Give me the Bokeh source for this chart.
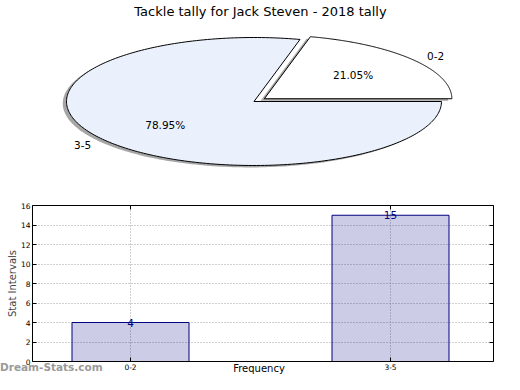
import numpy as np
from bokeh.plotting import figure
from bokeh.models import Range1d, Label, FixedTicker, LinearAxis, Div
from bokeh.layouts import column
from bokeh.embed import file_html
from bokeh.resources import INLINE
from bokeh.core.properties import value

# ---------------- data ----------------
title_text = "Tackle tally for Jack Steven - 2018 tally"
categories = ["0-2", "3-5"]
counts = [4, 15]
y_ticks = [0, 2, 4, 6, 8, 10, 12, 14, 16]
x_label = "Frequency"
y_label = "Stat Intervals"
watermark = "Dream-Stats.com"

FONT = "DejaVu Sans"
W = 504
FL, FR = 32, 11           # shared left/right borders (frames are aligned in a column)

# ---------------- pie ----------------
PH = 190
cx, cy = 253.5, 101.0     # canvas px of pie centre
rx, ry = 187.5, 64.0      # px per unit radius
pie = figure(width=W, height=PH,
             x_range=Range1d(-(cx - FL) / rx, (W - FR - cx) / rx),
             y_range=Range1d(-(PH - cy) / ry, cy / ry),
             output_backend="svg", toolbar_location=None,
             x_axis_type=None, y_axis_type=None,
             min_border_left=FL, min_border_right=FR, min_border_top=0, min_border_bottom=0)
pie.grid.visible = False
pie.outline_line_color = None

total = float(sum(counts))
fracs = [c / total for c in counts]
explode = [0.07, 0.0]
fills = ["#ffffff", "#eaf0fc"]

wx, wy, sx, sy = [], [], [], []
lab_x, lab_y, lab_t, lab_a = [], [], [], []
pct_x, pct_y, pct_t = [], [], []
start = 0.0
for f, e, name in zip(fracs, explode, categories):
    t1, t2 = start, start + 2 * np.pi * f
    mid = 0.5 * (t1 + t2)
    ox, oy = e * np.cos(mid), e * np.sin(mid)
    t = np.linspace(t1, t2, 240)
    px = np.concatenate([[ox], ox + np.cos(t)])
    py = np.concatenate([[oy], oy + np.sin(t)])
    wx.append(list(px)); wy.append(list(py))
    sx.append(list(px - 0.02)); sy.append(list(py - 0.03))
    lab_x.append(ox + 1.1 * np.cos(mid)); lab_y.append(oy + 1.1 * np.sin(mid))
    lab_t.append(name); lab_a.append("left" if np.cos(mid) > 0 else "right")
    pct_x.append(ox + 0.6 * np.cos(mid)); pct_y.append(oy + 0.6 * np.sin(mid))
    pct_t.append("%.2f%%" % (100 * f))
    start = t2

pie.patches(xs=sx, ys=sy, fill_color="#4d4d4d", fill_alpha=0.5, line_color=None)
pie.patches(xs=wx, ys=wy, fill_color=fills, line_color="black", line_width=1)
pie.text(x=lab_x, y=lab_y, text=lab_t, text_align=lab_a, text_baseline="middle",
         text_font=value(FONT), text_font_size="10.5px", text_color="black")
pie.text(x=pct_x, y=pct_y, text=pct_t, text_align="center", text_baseline="middle",
         text_font=value(FONT), text_font_size="10.5px", text_color="black")
pie.add_layout(Label(x=(260 - cx) / rx, y=(cy - 3) / ry, text=title_text,
                     text_align="center", text_baseline="top",
                     text_font=FONT, text_font_size="13px", text_color="black"))

# ---------------- bars ----------------
BH = 374 - PH
FT, FB = 15, 13
FW = W - FL - FR
ppu = 260.0                 # px between category centres
c0 = 130 - FL               # frame px of first centre
x0, x1 = -c0 / ppu, (FW - c0) / ppu

bar = figure(width=W, height=BH, x_range=Range1d(x0, x1), y_range=Range1d(0, 16),
             output_backend="svg", toolbar_location=None,
             min_border_left=FL, min_border_right=FR, min_border_top=FT, min_border_bottom=FB)
xpos = list(range(len(categories)))
bar.vbar(x=xpos, top=counts, width=0.45, fill_color="navy", fill_alpha=0.2,
         line_color="navy", line_width=1)
bar.text(x=xpos, y=counts, text=[str(c) for c in counts], text_align="center",
         text_baseline="alphabetic", text_color="navy", text_font=value(FONT),
         text_font_size="10.5px")

left_ax = bar.left[0]
below_ax = bar.below[0]
right_ax = LinearAxis()
above_ax = LinearAxis()
bar.add_layout(right_ax, "right")
bar.add_layout(above_ax, "above")

for ax_ in (left_ax, below_ax, right_ax, above_ax):
    ax_.major_label_text_font = FONT
    ax_.major_label_text_font_size = "7.5px"
    ax_.major_label_text_color = "black"
    ax_.major_tick_in = 4
    ax_.major_tick_out = 0
    ax_.major_tick_line_color = "black"
    ax_.minor_tick_line_color = None
    ax_.axis_line_color = "black"
    ax_.major_label_standoff = 2

left_ax.ticker = FixedTicker(ticks=y_ticks)
right_ax.ticker = FixedTicker(ticks=y_ticks)
right_ax.major_label_overrides = {t: "" for t in y_ticks}
below_ax.ticker = FixedTicker(ticks=xpos)
below_ax.major_label_overrides = {i: c for i, c in zip(xpos, categories)}
above_ax.ticker = FixedTicker(ticks=xpos)
above_ax.major_label_overrides = {i: "" for i in xpos}

left_ax.axis_label = y_label
left_ax.axis_label_text_font = FONT
left_ax.axis_label_text_font_size = "10px"
left_ax.axis_label_text_font_style = "normal"
left_ax.axis_label_standoff = 0

bar.xgrid.ticker = FixedTicker(ticks=xpos)
bar.ygrid.ticker = FixedTicker(ticks=y_ticks)
bar.grid.grid_line_color = "#a0a0a0"
bar.grid.grid_line_dash = "1 2"
bar.grid.grid_line_width = 1

# footer texts (outside the plot frame) overlapping the bottom border
footer = Div(
    text=(
        '<div style="position:relative;width:%dpx;height:14px;font-family:\'DejaVu Sans\';">'
        '<span style="position:absolute;left:0px;top:0px;color:#9a9a9a;font-weight:bold;'
        'font-size:10.5px;white-space:nowrap;">%s</span>'
        '<span style="position:absolute;left:259px;top:2px;transform:translateX(-50%%);'
        'color:black;font-size:10px;white-space:nowrap;">%s</span></div>'
    ) % (W, watermark, x_label),
    width=W, height=14, margin=(-14, 0, 0, 0),
)

layout = column(pie, bar, footer, spacing=0)
open("out.html", "w").write(file_html(layout, INLINE))
